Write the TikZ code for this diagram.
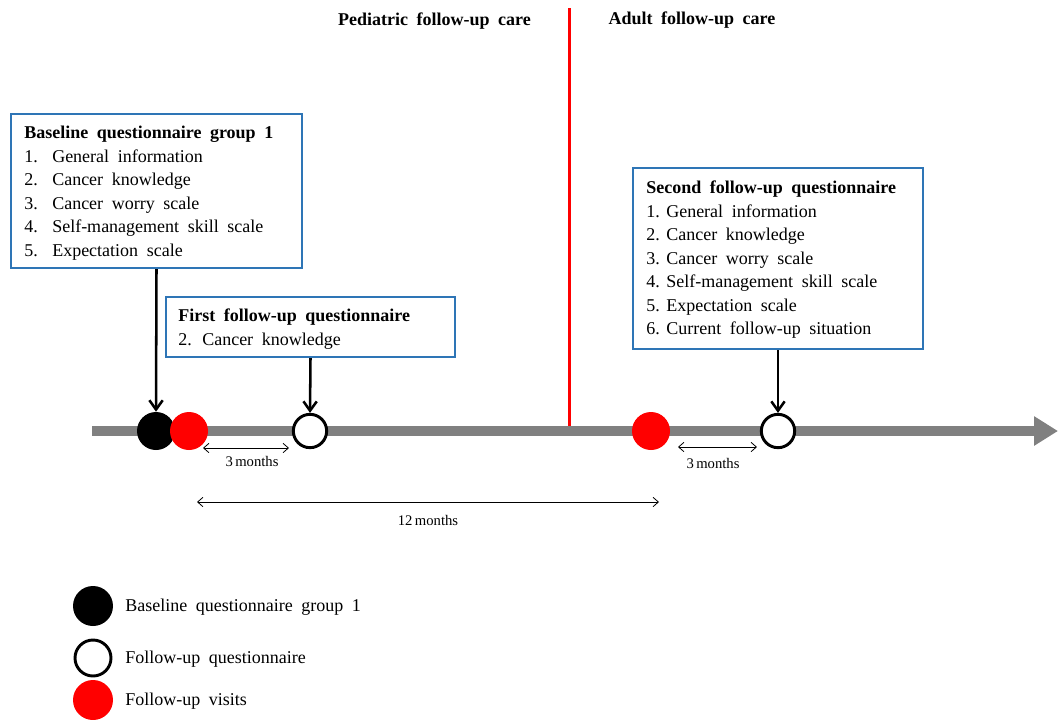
\documentclass[tikz,border=0pt]{standalone}
\usepackage{fontspec}
\setmainfont[WordSpace=1.9]{Liberation Serif}
\usetikzlibrary{arrows.meta}
\definecolor{boxblue}{HTML}{2E75B6}
\definecolor{linegray}{HTML}{808080}
\definecolor{dotred}{HTML}{FF0000}
\begin{document}
\begin{tikzpicture}[x=0.75pt,y=-0.75pt,
  qbox/.style={draw=boxblue,line width=1.5pt,inner sep=0pt,fill=white},
  qtext/.style={anchor=north west,inner sep=0pt,align=left,font=\fontsize{13.5}{17.6}\selectfont},
  hdr/.style={font=\bfseries\fontsize{13.5}{15}\selectfont,inner sep=0pt},
  blackdot/.style={circle,fill=black,minimum size=28.5pt,inner sep=0pt},
  reddot/.style={circle,fill=dotred,minimum size=28.5pt,inner sep=0pt},
  opendot/.style={circle,draw=black,fill=white,line width=2.2pt,minimum size=25pt,inner sep=0pt},
  downarrow/.style={line width=1.9pt,-{Straight Barb[length=7pt,width=10pt]}},
  dimarrow/.style={line width=0.6pt,{Straight Barb[length=4pt,width=7pt]}-{Straight Barb[length=4pt,width=7pt]}},
  small/.style={font=\fontsize{11}{12}\selectfont,inner sep=0pt},
  legtext/.style={anchor=west,inner sep=0pt,font=\fontsize{13.5}{15}\selectfont}]
\useasboundingbox (0,0) rectangle (1058,719);
% headers and separator
\node[hdr] (ped) at (434.5,21) {Pediatric follow-up care};
\node[hdr] (adu) at (692,20) {Adult follow-up care};
\coordinate (sepTop) at (569,8);
\coordinate (sepBot) at (569,426);
\draw[dotred,line width=2.25pt] (sepTop) -- (sepBot);
% timeline
\coordinate (tlStart) at (92,431);
\coordinate (tlEnd) at (1058,431);
\draw[linegray,line width=7.5pt,-{Triangle[length=18pt,width=21pt]}] (tlStart) -- (tlEnd);
% timeline dots
\node[blackdot] (base) at (156,431) {};
\node[reddot] (visit1) at (189,431) {};
\node[opendot] (fu1) at (310,431) {};
\node[reddot] (visit2) at (651,431) {};
\node[opendot] (fu2) at (778,431) {};
% boxes
\node[qbox,minimum width=218pt,minimum height=115.5pt] (b1) at (156.5,191) {};
\node[qtext] (b1t) at (24,126) {\textbf{Baseline questionnaire group 1}\\
\makebox[21pt][l]{1.}General information\\
\makebox[21pt][l]{2.}Cancer knowledge\\
\makebox[21pt][l]{3.}Cancer worry scale\\
\makebox[21pt][l]{4.}Self-management skill scale\\
\makebox[21pt][l]{5.}Expectation scale};
\node[qbox,minimum width=216.75pt,minimum height=45pt] (b2) at (310.5,327) {};
\node[qtext] (b2t) at (178,309) {\textbf{First follow-up questionnaire}\\
\makebox[18pt][l]{2.}Cancer knowledge};
\node[qbox,minimum width=217.5pt,minimum height=135.75pt] (b3) at (778,258.5) {};
\node[qtext] (b3t) at (646,181) {\textbf{Second follow-up questionnaire}\\
\makebox[15pt][l]{1.}General information\\
\makebox[15pt][l]{2.}Cancer knowledge\\
\makebox[15pt][l]{3.}Cancer worry scale\\
\makebox[15pt][l]{4.}Self-management skill scale\\
\makebox[15pt][l]{5.}Expectation scale\\
\makebox[15pt][l]{6.}Current follow-up situation};
% arrows from boxes
\draw[downarrow] (b1.south) -- (base.north);
\draw[downarrow] (b2.south) -- (fu1.north);
\draw[downarrow] (b3.south) -- (fu2.north);
% intervals
\coordinate (m1a) at (203,448);
\coordinate (m1b) at (289,448);
\draw[dimarrow] (m1a) -- (m1b);
\node[small] (m1) at (252,461) {3\,months};
\coordinate (m2a) at (678,447);
\coordinate (m2b) at (757,447);
\draw[dimarrow] (m2a) -- (m2b);
\node[small] (m2) at (713,463) {3\,months};
\coordinate (m3a) at (197,502);
\coordinate (m3b) at (659,502);
\draw[dimarrow] (m3a) -- (m3b);
\node[small] (m3) at (428,520) {12\,months};
% legend
\node[blackdot,minimum size=30pt] (lg1) at (93,606) {};
\node[legtext] (lg1t) at (125,607) {Baseline questionnaire group 1};
\node[opendot,minimum size=27pt] (lg2) at (93,658) {};
\node[legtext] (lg2t) at (125,659) {Follow-up questionnaire};
\node[reddot,minimum size=30pt] (lg3) at (93,700) {};
\node[legtext] (lg3t) at (125,701) {Follow-up visits};
\end{tikzpicture}
\end{document}
